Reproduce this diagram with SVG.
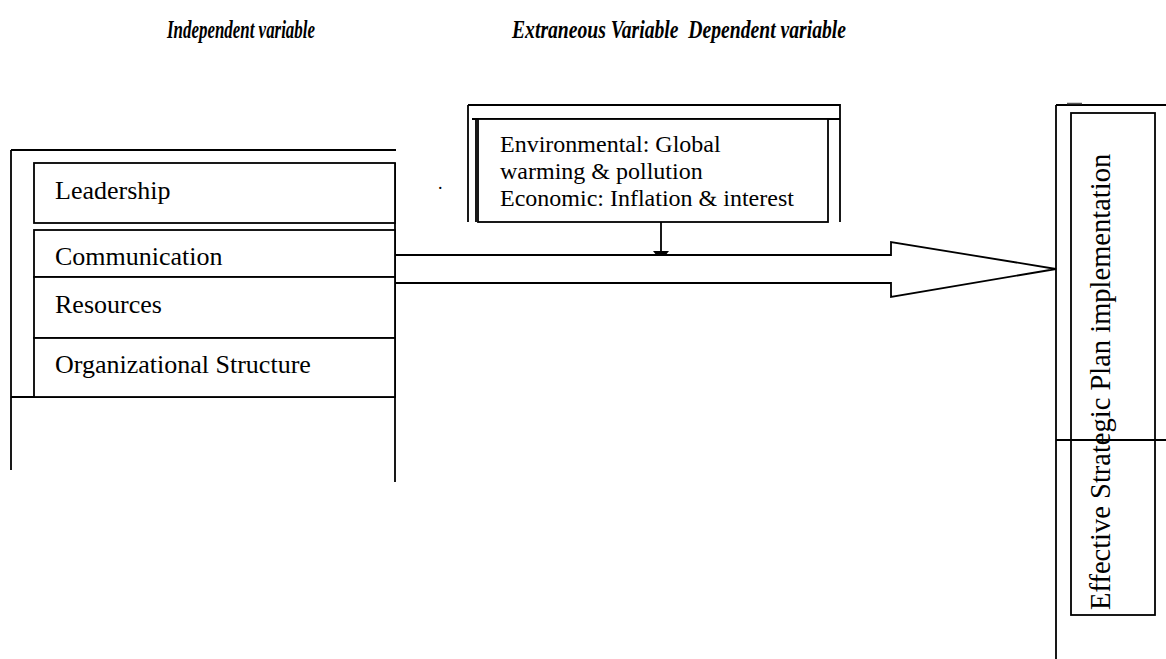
<svg xmlns="http://www.w3.org/2000/svg" width="1166" height="659" viewBox="0 0 1166 659">
<style>
.ln{stroke:#000;stroke-width:1.8;fill:none}
.bx{stroke:#000;stroke-width:1.8;fill:#fff}
.t{font-family:"Liberation Serif","Times New Roman",serif;fill:#000}
.h{font-family:"Liberation Serif","Times New Roman",serif;font-weight:bold;font-style:italic;font-size:25px;fill:#000}
</style>
<rect width="1166" height="659" fill="#fff"/>
<g id="headers">
<text class="h" x="167" y="38" textLength="148" lengthAdjust="spacingAndGlyphs">Independent variable</text>
<text class="h" x="512" y="38" textLength="334" lengthAdjust="spacingAndGlyphs" xml:space="preserve">Extraneous Variable  Dependent variable</text>
</g>
<g id="independent">
<path class="ln" d="M11,150 H396 M11,150 V470 M11,397 H395 M395,163 V482"/>
<g id="leadership"><rect class="bx" x="34" y="163" width="361" height="60"/><text class="t" x="55" y="199" font-size="26">Leadership</text></g>
<g id="communication"><rect class="bx" x="34" y="230" width="361" height="47"/><text class="t" x="55" y="265" font-size="26">Communication</text></g>
<g id="resources"><rect class="bx" x="34" y="277" width="361" height="61"/><text class="t" x="55" y="313" font-size="26">Resources</text></g>
<g id="structure"><rect class="bx" x="34" y="338" width="361" height="59"/><text class="t" x="55" y="373" font-size="26">Organizational Structure</text></g>
</g>
<g id="extraneous">
<path class="ln" d="M468,105 V222 M468,105 H840 V222 M472,119 H840 M476,119 V222"/>
<rect class="bx" x="478" y="119" width="350" height="103"/>
<text class="t" font-size="24"><tspan x="500" y="152">Environmental: Global</tspan><tspan x="500" y="179">warming &amp; pollution</tspan><tspan x="500" y="206">Economic: Inflation &amp; interest</tspan></text>
</g>
<text class="t" x="438" y="189" font-size="18">.</text>
<g id="dependent">
<path class="ln" d="M1056,105 V659 M1056,105 H1166 M1056,440 H1166"/>
<path d="M1067,103.5 H1082" stroke="#555" stroke-width="1.5"/>
<rect class="ln" x="1071" y="113" width="84" height="502"/>
<text class="t" font-size="28.5" transform="translate(1110,610) rotate(-90)">Effective Strategic Plan implementation</text>
</g>
<g id="connectors">
<path class="ln" d="M395,255 H891 V242 L1056,269 L891,297 V283 H395"/>
<path class="ln" d="M661,222 V252"/>
<polygon points="653,251 669,251 665,256 657,256" fill="#000"/>
</g>
</svg>
